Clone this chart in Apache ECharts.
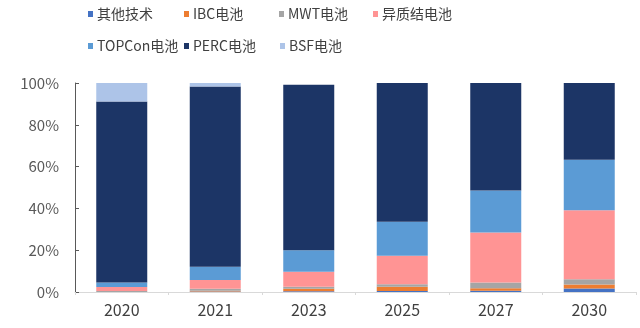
<!DOCTYPE html>
<html>
<head>
<meta charset="utf-8">
<script src="https://cdn.jsdelivr.net/npm/echarts@6/dist/echarts.min.js"></script>
<style>html,body{margin:0;padding:0;background:#fff}#c{width:640px;height:328px}</style>
</head>
<body>
<div id="c"></div>
<script>
const categories = ['2020', '2021', '2023', '2025', '2027', '2030'];
const seriesNames = ['其他技术', 'IBC电池', 'MWT电池', '异质结电池', 'TOPCon电池', 'PERC电池', 'BSF电池'];
const other = [0, 0.2, 0.3, 0.5, 0.6, 1.7];
const ibc = [0, 0.4, 1.2, 2.0, 1.2, 1.9];
const mwt = [0.5, 1.0, 1.0, 1.2, 2.8, 2.5];
const hjt = [1.9, 4.1, 7.2, 13.6, 23.9, 33.0];
const topcon = [2.2, 6.4, 10.3, 16.3, 20.1, 24.2];
const perc = [86.6, 86.2, 79.2, 66.4, 51.4, 36.7];
const bsf = [8.8, 1.7, 0, 0, 0, 0];
const yTicks = [0, 20, 40, 60, 80, 100];

const values = [other, ibc, mwt, hjt, topcon, perc, bsf];
const colors = ['#4472C4', '#ED7D31', '#A5A5A5', '#FF9494', '#5B9BD5', '#1C3566', '#ADC4E8'];
const font = '"Noto Sans CJK SC", "Noto Sans", sans-serif';
const legendPos = [[88, 7], [184, 7], [279, 7], [373, 7], [88, 39], [184, 39], [280, 39]];

const chart = echarts.init(document.getElementById('c'), null, { renderer: 'canvas' });
chart.setOption({
  backgroundColor: '#ffffff',
  animation: false,
  color: colors,
  legend: seriesNames.map((n, i) => ({
    data: [n],
    left: legendPos[i][0],
    top: legendPos[i][1],
    padding: 0,
    itemWidth: 5,
    itemHeight: 6,
    icon: 'rect',
    textStyle: { fontSize: 14, color: '#404040', fontFamily: font, padding: [0, 0, 0, -1] }
  })),
  grid: { left: 75, right: 4, top: 83, bottom: 36 },
  xAxis: {
    type: 'category',
    data: categories,
    axisLine: { lineStyle: { color: '#D9D9D9', width: 1 } },
    axisTick: { show: true, length: 3, lineStyle: { color: '#D9D9D9' } },
    axisLabel: { fontSize: 16, color: '#404040', fontFamily: font, margin: 10 }
  },
  yAxis: {
    type: 'value',
    min: yTicks[0],
    max: yTicks[yTicks.length - 1],
    interval: 20,
    axisLine: { show: true, lineStyle: { color: '#595959', width: 1 } },
    axisTick: { show: true, inside: true, length: 4, lineStyle: { color: '#595959' } },
    splitLine: { show: false },
    axisLabel: { fontSize: 15, color: '#595959', fontFamily: font, margin: 16, formatter: '{value}%' }
  },
  series: seriesNames.map((n, i) => ({
    name: n,
    type: 'bar',
    stack: 'total',
    barWidth: 51,
    data: values[i],
    itemStyle: { color: colors[i] }
  }))
});
</script>
</body>
</html>
